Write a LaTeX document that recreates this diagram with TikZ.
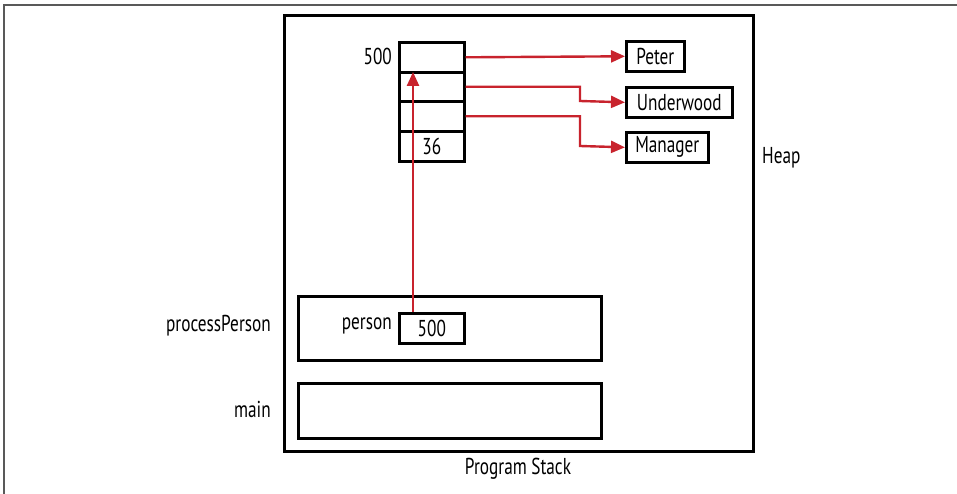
\documentclass[tikz,border=0pt]{standalone}
\usepackage{fontspec}
\setmainfont[FakeStretch=0.75]{PT Sans}
\usetikzlibrary{arrows.meta}
\definecolor{arrred}{RGB}{200,35,45}
\tikzset{
  box/.style={draw=black, line width=2.6pt, inner sep=0pt, anchor=north west},
  lbl/.style={font=\fontsize{23}{26}\selectfont, inner sep=0pt},
  ptr/.style={draw=arrred, line width=2.4pt, -{Triangle[length=14pt,width=12pt]}},
}
\begin{document}
\begin{tikzpicture}[x=1pt,y=-1pt]
\useasboundingbox (0,0) rectangle (957,494);
% frame lines
\draw[gray!70!black, line width=2pt] (4,494) -- (4,5) -- (957,5);
% outer box
\node[box, minimum width=469pt, minimum height=436pt] (outer) at (283,14) {};
\node[lbl, anchor=west] (heap) at (762,158) {Heap};
\node[lbl] (stack) at (518,469) {Program Stack};
% heap cells
\node[box, minimum width=65pt, minimum height=30pt] (c1) at (398,41) {};
\node[box, minimum width=65pt, minimum height=29pt] (c2) at (398,71) {};
\node[box, minimum width=65pt, minimum height=30pt] (c3) at (398,100) {};
\node[box, minimum width=65pt, minimum height=30pt] (c4) at (398,130) {};
\node[lbl] (n36) at (c4.center) {36};
\node[lbl, anchor=east] (addr) at (392,56) {500};
% strings
\node[box, minimum width=58pt, minimum height=30pt] (peter) at (625,40) {};
\node[lbl] at (peter.center) {Peter};
\node[box, minimum width=106pt, minimum height=30pt] (under) at (625,86) {};
\node[lbl] at (under.center) {Underwood};
\node[box, minimum width=82pt, minimum height=30pt] (mgr) at (625,131) {};
\node[lbl] at (mgr.center) {Manager};
% stack frames
\node[box, minimum width=303pt, minimum height=64pt] (pp) at (297,295) {};
\node[box, minimum width=303pt, minimum height=55pt] (mainf) at (297,382) {};
\node[lbl, anchor=east] (pplbl) at (271,326) {processPerson};
\node[lbl, anchor=east] (mainlbl) at (271,409) {main};
\node[box, minimum width=65pt, minimum height=30pt] (pbox) at (398,312) {};
\node[lbl] at (pbox.center) {500};
\node[lbl, anchor=east] (plbl) at (392,326) {person};
% pointers
\draw[ptr] (c1.east) -- (peter.west);
\draw[ptr] (c2.east) -| (580,101) -- (under.west);
\draw[ptr] (c3.east) -| (580,146) -- (mgr.west);
\draw[ptr] (pbox.north -| 413,0) -- (413,72);
\end{tikzpicture}
\end{document}
